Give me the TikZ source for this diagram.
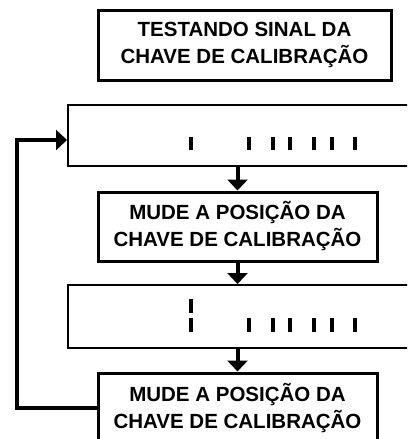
\documentclass[tikz,border=0pt]{standalone}
\usepackage{fontspec}
\setmainfont{Liberation Sans}
\usetikzlibrary{arrows.meta}
\begin{document}
\begin{tikzpicture}[x=1pt,y=-1pt,
  txtbox/.style={draw=black,line width=3pt,minimum width=#1,minimum height=69pt,inner sep=0pt,align=center,
    font=\fontsize{20.5}{27}\selectfont\bfseries},
  txtbox/.default=279pt,
  widebox/.style={draw=black,line width=2pt,minimum width=352pt,minimum height=#1,inner sep=0pt},
  arr/.style={line width=4pt,-{Triangle[width=20pt,length=11pt]}},
  tick/.style={fill=black}
]
\useasboundingbox (0,0) rectangle (407,439);
\clip (0,0) rectangle (407,439);
\node[txtbox=293pt,minimum height=70pt] (top) at (244.5,45) {TESTANDO SINAL DA\\CHAVE DE CALIBRAÇÃO};
\node[widebox=61pt] (w1) at (244,135.5) {};
\node[txtbox] (b2) at (237.5,226.5) {MUDE A POSIÇÃO DA\\CHAVE DE CALIBRAÇÃO};
\node[widebox=63pt] (w2) at (244,316.5) {};
\node[txtbox] (b3) at (237.5,407.5) {MUDE A POSIÇÃO DA\\CHAVE DE CALIBRAÇÃO};
% ticks
\foreach \x in {191,249,273,290,314,332,355}{
  \fill[tick] (\x-2,137) rectangle (\x+2,150);
}
\fill[tick] (189,299) rectangle (193,313);
\foreach \x in {191,249,273,290,314,332,355}{
  \fill[tick] (\x-2,318) rectangle (\x+2,332);
}
% arrows
\draw[arr] (w1.south -| b2.north) -- (b2.north);
\draw[arr] (b2.south) -- (w2.north -| b2.south);
\draw[arr] (w2.south -| b3.north) -- (b3.north);
\coordinate (fb) at (17,408);
\coordinate (ft) at (17,140);
\draw[line width=4pt,-{Triangle[width=20pt,length=11pt]}] (b3.west |- fb) -- (fb) -- (ft) -- (w1.west |- ft);
\end{tikzpicture}
\end{document}
